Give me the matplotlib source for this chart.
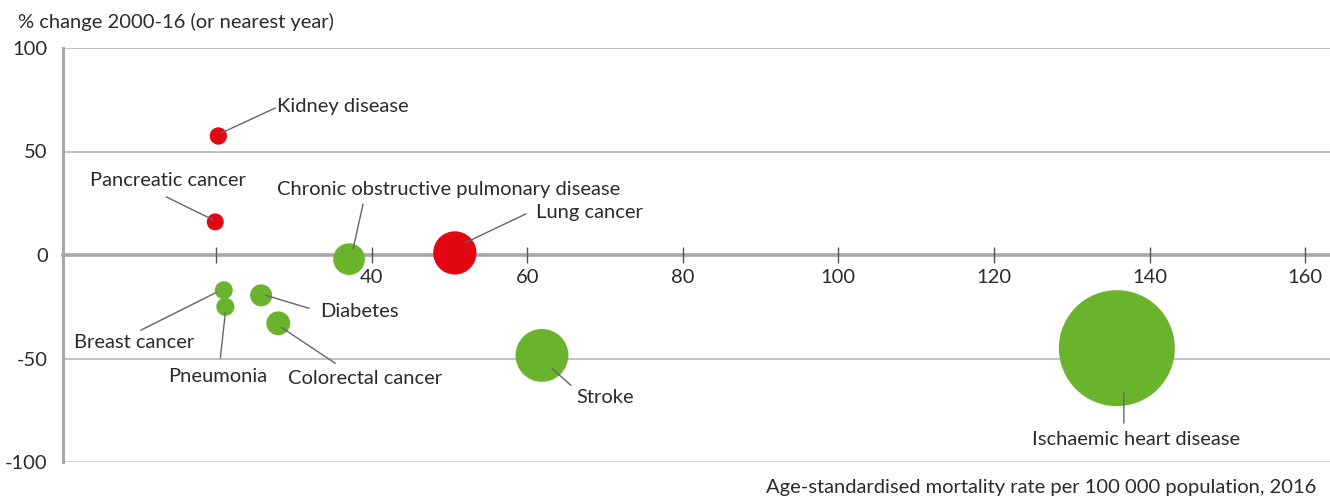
import numpy as np
import matplotlib
matplotlib.use("Agg")
import matplotlib.pyplot as plt
from matplotlib.transforms import offset_copy

# --- data ---
causes = ["Kidney disease", "Pancreatic cancer", "Chronic obstructive pulmonary disease",
          "Lung cancer", "Breast cancer", "Pneumonia", "Diabetes", "Colorectal cancer",
          "Stroke", "Ischaemic heart disease"]
mortality_2016 = [20.3, 19.9, 37.1, 50.7, 21.0, 21.2, 25.8, 28.0, 61.9, 135.8]
pct_change = [57.5, 16.0, -2.0, 1.0, -17.0, -25.0, -19.5, -33.0, -48.5, -45.0]
is_increase = [True, True, False, True, False, False, False, False, False, False]

x_ticks = [20, 40, 60, 80, 100, 120, 140, 160]
x_tick_labels = ["", "40", "60", "80", "100", "120", "140", "160"]
y_ticks = [-100, -50, 0, 50, 100]
y_tick_labels = ["-100", "-50", "0", "50", "100"]

# label layout: offsets in pixels from bubble centre (x right, y up)
# (text dx, text dy, ha), leader outer end, leader inner end
label_text_off = [(59, 29, "left"), (-47, 41, "center"), (-72, 70, "left"),
                  (81, 40, "left"), (-90, -52, "center"), (-8, -70, "center"),
                  (59, -16, "left"), (10, -55, "left"), (34, -42, "left"),
                  (19, -91, "center")]
leader_outer = [(57, 28), (-49, 25), (14, 55), (71, 39), (-83, -40), (-5, -51),
                (48, -13), (57, -40), (29, -30), (7, -75)]
leader_inner = [(3, 3), (-2, 2), (4, 10), (10, 10), (-7, -2), (0, -6),
                (5, 0), (3, -4), (10, -13), (7, -44)]

RED = "#e30613"
GREEN = "#6ab42d"
TXT = "#2b2b2b"
FS = 14.5
PX = 72 / 100  # points per pixel at dpi 100

plt.rcParams["font.family"] = ["Lato", "DejaVu Sans"]

fig = plt.figure(figsize=(13.3, 4.97), dpi=100)
ax = fig.add_axes([63 / 1330, 35 / 497, 1 - 63 / 1330, 414 / 497])
ax.set_xlim(0.33, 163.2)
ax.set_ylim(-100, 100)

# grid lines
for yv in y_ticks:
    if yv == 0:
        continue
    ax.axhline(yv, color="#d0d0d0" if yv == -100 else "#bdbdbd", lw=1.3, zorder=0)

# bubbles: radius proportional to the mortality rate
xs = np.array(mortality_2016)
diam_pt = 2 * 0.427 * xs * PX
colors = [RED if up else GREEN for up in is_increase]
ax.scatter(xs, pct_change, s=diam_pt ** 2, c=colors, linewidths=0, zorder=3)

# labels with leader lines
for i, name in enumerate(causes):
    cx, cy = mortality_2016[i], pct_change[i]
    ox, oy = leader_outer[i]
    ix, iy = leader_inner[i]
    inner_tr = offset_copy(ax.transData, fig=fig, x=ix * PX, y=iy * PX, units="points")
    outer_tr = offset_copy(ax.transData, fig=fig, x=ox * PX, y=oy * PX, units="points")
    ax.annotate("", xy=(cx, cy), xycoords=inner_tr, xytext=(cx, cy), textcoords=outer_tr,
                arrowprops=dict(arrowstyle="-", color="#666666", lw=1.0,
                                shrinkA=0, shrinkB=0),
                zorder=4)
    tx, ty, ha = label_text_off[i]
    ax.annotate(name, xy=(cx, cy), xytext=(tx * PX, ty * PX), textcoords="offset points",
                ha=ha, va="center", fontsize=FS, color=TXT, zorder=5)

# spines / axes
for s in ["top", "right"]:
    ax.spines[s].set_visible(False)
ax.spines["left"].set_color("#a8a8a8")
ax.spines["left"].set_linewidth(2.2)
ax.spines["bottom"].set_position(("data", 0))
ax.spines["bottom"].set_color("#a8a8a8")
ax.spines["bottom"].set_linewidth(2.6)
ax.spines["bottom"].set_zorder(1)

ax.set_xticks(x_ticks)
ax.set_xticklabels(x_tick_labels)
ax.set_yticks(y_ticks)
ax.set_yticklabels(y_tick_labels)
ax.tick_params(axis="x", direction="inout", length=16 * PX, width=1, color="#555555",
               labelsize=FS, labelcolor=TXT, pad=4)
ax.tick_params(axis="y", length=0, labelsize=FS, labelcolor=TXT, pad=11)

fig.text(18 / 1330, 1 - 22 / 497, "% change 2000-16 (or nearest year)", fontsize=FS,
         color=TXT, ha="left", va="center")
fig.text(1316 / 1330, 1 - 487 / 497,
         "Age-standardised mortality rate per 100 000 population, 2016",
         fontsize=FS, color=TXT, ha="right", va="center")

fig.savefig("out.png", dpi=100)
